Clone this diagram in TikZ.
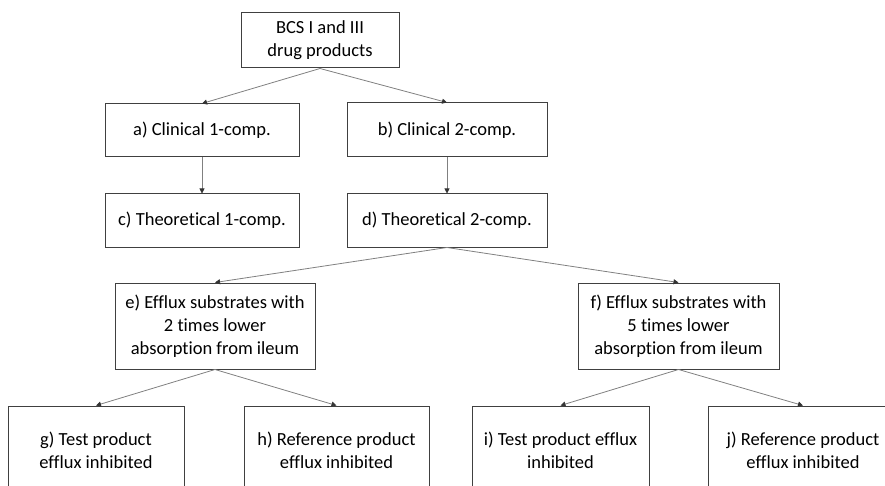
\documentclass[tikz,border=0pt]{standalone}
\usepackage{fontspec}
\setmainfont[Ligatures=NoCommon]{Carlito}
\usetikzlibrary{arrows.meta}
\definecolor{boxline}{HTML}{404040}
\definecolor{arrline}{HTML}{808080}
\tikzset{
  box/.style={draw=boxline, line width=1pt, rectangle, align=center, inner sep=0pt,
    font=\fontsize{18.5}{23}\selectfont, text=black},
  conn/.style={draw=arrline, line width=0.8pt, -{Triangle[length=5pt,width=5pt,fill=black!80,color=black!80]}},
}
\begin{document}
\begin{tikzpicture}[x=1pt,y=-1pt]
\useasboundingbox (0,0) rectangle (885,486);
\clip (0,0) rectangle (885,486);
\node[box, minimum width=158pt, minimum height=55pt] (top) at (320,40.5) {BCS I and III\\drug products};
\node[box, minimum width=194pt, minimum height=53pt] (a) at (202,130.5) {a) Clinical 1-comp.};
\node[box, minimum width=200pt, minimum height=54pt] (b) at (447,130) {b) Clinical 2-comp.};
\node[box, minimum width=194pt, minimum height=53pt] (c) at (202,220.5) {c) Theoretical 1-comp.};
\node[box, minimum width=200pt, minimum height=53pt] (d) at (447,220.5) {d) Theoretical 2-comp.};
\node[box, minimum width=200pt, minimum height=86pt] (e) at (215,326) {e) Efflux substrates with\\2 times lower\\absorption from ileum};
\node[box, minimum width=201pt, minimum height=86pt] (f) at (678.5,326) {f) Efflux substrates with\\5 times lower\\absorption from ileum};
\node[box, minimum width=176pt, minimum height=88pt] (g) at (96,450) {g) Test product\\efflux inhibited};
\node[box, minimum width=185pt, minimum height=88pt] (h) at (336.5,450) {h) Reference product\\efflux inhibited};
\node[box, minimum width=177pt, minimum height=88pt] (i) at (560.5,450) {i) Test product efflux\\inhibited};
\node[box, minimum width=190pt, minimum height=88pt] (j) at (803,450) {j) Reference product\\efflux inhibited};
\draw[conn] (top.south) -- (a.north);
\draw[conn] (top.south) -- (b.north);
\draw[conn] (a.south) -- (c.north);
\draw[conn] (b.south) -- (d.north);
\draw[conn] (d.south) -- (e.north);
\draw[conn] (d.south) -- (f.north);
\draw[conn] (e.south) -- (g.north);
\draw[conn] (e.south) -- (h.north);
\draw[conn] (f.south) -- (i.north);
\draw[conn] (f.south) -- (j.north);
\end{tikzpicture}
\end{document}
